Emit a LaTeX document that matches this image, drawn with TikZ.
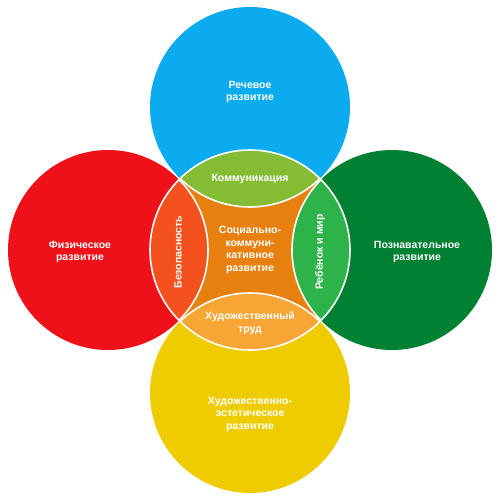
\documentclass[tikz,border=0pt]{standalone}
\usepackage{fontspec}
\setmainfont{Liberation Sans}
\definecolor{cblue}{HTML}{0AABEF}
\definecolor{cred}{HTML}{EE1119}
\definecolor{cgreen}{HTML}{008033}
\definecolor{cyellow}{HTML}{EFCC00}
\definecolor{corange}{HTML}{E8800F}
\definecolor{clgreen}{HTML}{84BC34}
\definecolor{credor}{HTML}{F4511F}
\definecolor{cmgreen}{HTML}{2EB34A}
\definecolor{clorange}{HTML}{F7A535}
\begin{document}
\begin{tikzpicture}[x=1pt,y=-1pt,
  lbl/.style={text=white, align=center, font=\bfseries\fontsize{10.5}{12.5}\selectfont, inner sep=0pt},
  wline/.style={draw=white, line width=1.6pt}]
\useasboundingbox (0,0) rectangle (500,500);
% outer circles
\fill[cblue] (250,107) circle[radius=100pt];
\fill[cred] (108,250) circle[radius=100pt];
\fill[cgreen] (392,250) circle[radius=100pt];
\fill[cyellow] (250,393) circle[radius=100pt];
% central circle
\fill[corange] (250,250) circle[radius=100pt];
\begin{scope}
  \clip (250,250) circle[radius=100pt];
  \fill[clgreen] (250,107) circle[radius=100pt];
  \fill[credor] (108,250) circle[radius=100pt];
  \fill[cmgreen] (392,250) circle[radius=100pt];
  \fill[clorange] (250,393) circle[radius=100pt];
  \draw[wline] (250,107) circle[radius=100pt];
  \draw[wline] (108,250) circle[radius=100pt];
  \draw[wline] (392,250) circle[radius=100pt];
  \draw[wline] (250,393) circle[radius=100pt];
\end{scope}
\draw[wline] (250,250) circle[radius=100pt];
% labels
\node[lbl] (speech) at (250,92) {Речевое\\развитие};
\node[lbl] (phys) at (80,252) {Физическое\\развитие};
\node[lbl] (cogn) at (417,252) {Познавательное\\развитие};
\node[lbl] (art) at (250,414) {Художественно-\\эстетическое\\развитие};
\node[lbl] (soc) at (250,250) {Социально-\\коммуни-\\кативное\\развитие};
\node[lbl] (comm) at (250,179) {Коммуникация};
\node[lbl] (work) at (250,323) {Художественный\\труд};
\node[lbl, rotate=90] (safe) at (178,252) {Безопасность};
\node[lbl, rotate=90] (world) at (320,252) {Ребёнок и мир};
\end{tikzpicture}
\end{document}
